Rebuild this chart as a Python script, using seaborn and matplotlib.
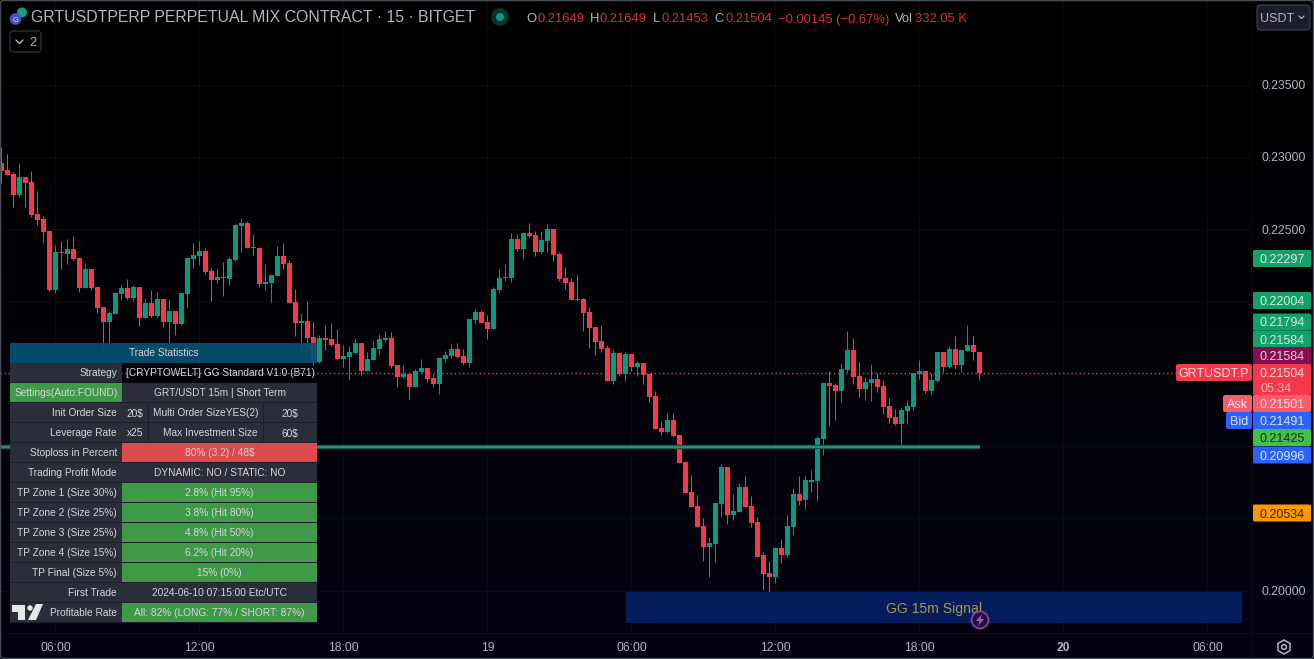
# Recreating a 15m GRTUSDT candle chart with the strategy stats table
import numpy as np
import pandas as pd
import matplotlib.pyplot as plt
from matplotlib.patches import Rectangle, FancyBboxPatch, Circle, Polygon, RegularPolygon
import seaborn as sns

# candle values, in units of 0.00001
opens = [22955, 22909, 22881, 22736, 22860, 22826, 22604, 22570, 22487, 22079, 22342, 22328, 22362, 22300, 22093, 22224,
         22100, 21961, 21857, 21913, 22051, 22093, 22024, 22100, 21885, 21989, 21899, 22017, 21857, 21934, 21844, 22051,
         22293, 22314, 22349, 22210, 22148, 22169, 22155, 22286, 22521, 22542, 22376, 22369, 22120, 22127, 22176, 22314,
         22266, 21996, 21851, 21864, 21754, 21581, 21747, 21740, 21705, 21602, 21616, 21643, 21712, 21519, 21595, 21671,
         21733, 21747, 21560, 21477, 21498, 21408, 21512, 21539, 21470, 21429, 21602, 21622, 21671, 21622, 21574, 21871,
         21927, 21858, 21809, 22079, 22162, 22162, 22432, 22362, 22473, 22459, 22342, 22418, 22501, 22328, 22162, 22134,
         22017, 22017, 21927, 21823, 21726, 21678, 21447, 21643, 21498, 21636, 21546, 21574, 21498, 21346, 21125, 21097,
         21180, 21074, 20889, 20682, 20585, 20447, 20299, 20320, 20597, 20855, 20521, 20541, 20716, 20585, 20475, 20246,
         20120, 20092, 20292, 20244, 20438, 20668, 20627, 20751, 20756, 21048, 21436, 21422, 21380, 21526, 21664, 21484,
         21394, 21436, 21463, 21415, 21277, 21201, 21150, 21242, 21270, 21498, 21519, 21380, 21450, 21650, 21546, 21671,
         21560, 21657, 21699, 21649]
highs = [23070, 23019, 22897, 22959, 22860, 22902, 22763, 22591, 22487, 22390, 22418, 22432, 22452, 22305, 22263, 22224,
         22100, 21961, 21934, 22065, 22113, 22155, 22113, 22100, 22024, 22079, 22065, 22017, 22017, 21934, 22058, 22300,
         22404, 22418, 22369, 22231, 22224, 22272, 22307, 22535, 22577, 22556, 22466, 22369, 22259, 22183, 22383, 22404,
         22286, 22086, 21920, 22003, 21858, 21768, 21837, 21851, 21809, 21699, 21692, 21747, 21712, 21650, 21726, 21775,
         21795, 21788, 21560, 21560, 21505, 21533, 21602, 21539, 21498, 21609, 21657, 21705, 21712, 21671, 21878, 21947,
         21941, 21906, 22100, 22224, 22259, 22473, 22466, 22473, 22542, 22487, 22487, 22535, 22501, 22342, 22238, 22162,
         22183, 22024, 21961, 21823, 21837, 21699, 21664, 21643, 21650, 21636, 21588, 21574, 21505, 21380, 21173, 21226,
         21226, 21074, 20896, 20800, 20661, 20502, 20371, 20606, 20876, 20855, 20668, 20744, 20793, 20654, 20509, 20267,
         20205, 20299, 20357, 20523, 20710, 20793, 20793, 20834, 21069, 21436, 21519, 21436, 21574, 21795, 21747, 21581,
         21477, 21567, 21505, 21456, 21332, 21256, 21270, 21318, 21505, 21595, 21519, 21505, 21650, 21650, 21692, 21761,
         21664, 21837, 21761, 21649]
lows = [22821, 22874, 22655, 22724, 22655, 22586, 22528, 22406, 22074, 22060, 22224, 22259, 22286, 22065, 22093, 22079,
        21920, 21675, 21687, 21913, 22010, 22017, 22003, 21830, 21885, 21892, 21885, 21823, 21710, 21768, 21837, 21954,
        22231, 22252, 22190, 22003, 22127, 22037, 22113, 22279, 22342, 22369, 22321, 22100, 22079, 21996, 22176, 22224,
        21989, 21761, 21618, 21687, 21560, 21572, 21664, 21692, 21595, 21546, 21456, 21641, 21491, 21519, 21593, 21629,
        21719, 21539, 21406, 21470, 21325, 21406, 21505, 21443, 21408, 21360, 21581, 21609, 21609, 21560, 21546, 21844,
        21851, 21740, 21809, 22058, 22141, 22134, 22349, 22293, 22445, 22314, 22328, 22342, 22279, 22141, 22086, 22010,
        22003, 21795, 21678, 21629, 21650, 21447, 21429, 21484, 21449, 21519, 21484, 21429, 21304, 21115, 21074, 21088,
        21065, 20880, 20673, 20576, 20438, 20207, 20096, 20200, 20507, 20458, 20486, 20541, 20576, 20438, 20235, 20004,
        19937, 20050, 20189, 20230, 20387, 20590, 20567, 20682, 20617, 20935, 21136, 21178, 21302, 21510, 21426, 21337,
        21316, 21309, 21371, 21219, 21157, 21143, 20977, 21150, 21247, 21463, 21364, 21350, 21443, 21510, 21539, 21533,
        21512, 21657, 21595, 21453]
closes = [22904, 22874, 22736, 22860, 22819, 22598, 22563, 22480, 22079, 22342, 22332, 22362, 22293, 22093, 22224, 22093,
          21954, 21857, 21920, 22058, 22093, 22024, 22100, 21885, 21989, 21899, 22017, 21857, 21934, 21844, 22058, 22300,
          22321, 22349, 22203, 22148, 22169, 22162, 22293, 22528, 22542, 22369, 22369, 22120, 22134, 22183, 22314, 22259,
          21989, 21851, 21864, 21747, 21581, 21747, 21733, 21699, 21602, 21622, 21650, 21712, 21519, 21602, 21678, 21740,
          21747, 21553, 21477, 21498, 21408, 21519, 21539, 21463, 21429, 21609, 21629, 21671, 21616, 21574, 21878, 21927,
          21851, 21809, 22086, 22162, 22169, 22432, 22362, 22473, 22452, 22342, 22425, 22501, 22321, 22155, 22127, 22010,
          22010, 21920, 21816, 21719, 21671, 21447, 21643, 21498, 21636, 21546, 21574, 21491, 21339, 21115, 21097, 21180,
          21067, 20880, 20673, 20576, 20438, 20299, 20327, 20606, 20855, 20521, 20548, 20716, 20576, 20465, 20235, 20113,
          20092, 20292, 20244, 20447, 20668, 20620, 20765, 20765, 21055, 21436, 21415, 21380, 21533, 21664, 21477, 21394,
          21443, 21463, 21408, 21270, 21194, 21150, 21249, 21277, 21505, 21519, 21380, 21456, 21650, 21546, 21671, 21560,
          21664, 21699, 21650, 21504]

# axis labels
price_ticks = [0.235, 0.23, 0.225, 0.22, 0.215, 0.21, 0.205, 0.2]
price_labels = ['0.23500', '0.23000', '0.22500', '', '', '', '', '0.20000']
time_ticks = [9, 33, 57, 81, 105, 129, 153, 177, 201]
time_labels = ['06:00', '12:00', '18:00', '19', '06:00', '12:00', '18:00', '20', '06:00']
last_price = 0.21504
level_price = 0.20996

# strategy table
stat_labels = ['Strategy', 'Settings(Auto:FOUND)', 'Init Order Size', 'Leverage Rate', 'Stoploss in Percent',
               'Trading Profit Mode', 'TP Zone 1 (Size 30%)', 'TP Zone 2 (Size 25%)', 'TP Zone 3 (Size 25%)',
               'TP Zone 4 (Size 15%)', 'TP Final (Size 5%)', 'First Trade', 'Profitable Rate']
stat_values = ['[CRYPTOWELT] GG Standard V1.0 (B71)', 'GRT/USDT 15m | Short Term', None, None, '80% (3.2) / 48$',
               'DYNAMIC: NO / STATIC: NO', '2.8% (Hit 95%)', '3.8% (Hit 80%)', '4.8% (Hit 50%)', '6.2% (Hit 20%)',
               '15% (0%)', '2024-06-10 07:15:00 Etc/UTC', 'All: 82% (LONG: 77% / SHORT: 87%)']
order_cells = [['20$', 'Multi Order SizeYES(2)', '20$'], ['x25', 'Max Investment Size', '60$']]

# price tags on the right
tag_values = ['0.22297', '0.22004', '0.21794', '0.21584', '0.21584', '0.21504', '0.21501', '0.21491', '0.21425',
              '0.20996', '0.20534']
tag_colors = ['#12a06b', '#12a06b', '#12a06b', '#12a06b', '#880e4f', '#f7374a', '#fa5c6c', '#2962ff', '#43c04a',
              '#2962ff', '#ff9800']
tag_text = ['#dfe9e4'] * 4 + ['#e8d5dd', '#f4dfe2', '#f6e4e6', '#dde6ff', '#0b2a10', '#dde6ff', '#3a2400']
tag_centers = [258.5, 300.5, 322, 339, 355.5, 372.5, 403.5, 420.5, 437.5, 455, 513]

ohlc_parts = [('O', 526, 'g'), ('0.21649', 537, 'r'), ('H', 590, 'g'), ('0.21649', 600, 'r'), ('L', 653, 'g'),
              ('0.21453', 661, 'r'), ('C', 714, 'g'), ('0.21504', 725, 'r'), ('−0.00145 (−0.67%)', 778, 'r'),
              ('Vol', 895, 'g'), ('332.05 K', 915, 'r')]

candles = pd.DataFrame({'open': opens, 'high': highs, 'low': lows, 'close': closes}) / 100000
candles['idx'] = candles.index
candles['bottom'] = candles[['open', 'close']].min(axis=1)
candles['body'] = (candles['open'] - candles['close']).abs()
up = candles[candles['close'] > candles['open']]
down = candles[candles['close'] <= candles['open']]

GREEN = '#089981'
RED = '#f7374a'
GREY = '#b2b5be'

sns.set_theme(style='dark', rc={'axes.facecolor': 'none', 'figure.facecolor': '#000000', 'axes.linewidth': 0,
                                'patch.edgecolor': 'none'})
plt.rcParams['font.family'] = ['Liberation Sans', 'DejaVu Sans']

W, H = 1314, 659
PANE_R, PANE_B = 1250, 632
fig = plt.figure(figsize=(W / 100, H / 100), dpi=100)

# background fades from black to dark navy
bg = fig.add_axes([0, 0, 1, 1], zorder=0)
bg.imshow(np.linspace(0, 1, 256).reshape(-1, 1), aspect='auto', extent=(0, W, H, 0),
          cmap=sns.blend_palette(['#000000', '#02030f'], as_cmap=True))
bg.axis('off')

ax = fig.add_axes([0, 1 - PANE_B / H, PANE_R / W, PANE_B / H], zorder=1)
ax.vlines(candles['idx'], candles['low'], candles['high'],
          colors=[GREEN if c > o else RED for o, c in zip(candles['open'], candles['close'])],
          linewidth=0.72, zorder=3)
sns.barplot(data=up, x='idx', y='body', bottom=up['bottom'].values, native_scale=True, color=GREEN, saturation=1,
            width=5 / 6, errorbar=None, linewidth=0, ax=ax, zorder=4)
sns.barplot(data=down, x='idx', y='body', bottom=down['bottom'].values, native_scale=True, color=RED, saturation=1,
            width=5 / 6, errorbar=None, linewidth=0, ax=ax, zorder=4)
ax.set_xlim(-1.5 / 6, (PANE_R - 1.5) / 6)
ax.set_ylim(0.235 - (PANE_B - 84.5) / 14460, 0.235 + 84.5 / 14460)
ax.set_xlabel('')
ax.set_ylabel('')
ax.set_xticks(time_ticks, time_labels)
ax.yaxis.tick_right()
ax.set_yticks(price_ticks, price_labels)
ax.tick_params(axis='x', length=0, pad=7.2, labelsize=8.7, colors=GREY)
ax.tick_params(axis='y', length=0, pad=8.5, labelsize=8.7, colors=GREY)
for lab in ax.get_xticklabels():
    if lab.get_text() == '20':
        lab.set_fontweight('bold')
ax.grid(True, color='#080a14', linewidth=0.72, zorder=0)
ax.set_axisbelow(True)
ax.axhline(last_price, xmax=1176 / PANE_R, color=RED, linewidth=1.0, linestyle=(0, (1, 2)), zorder=2)
ax.plot([-0.25, 163.1], [level_price, level_price], color='#0d4f45', linewidth=3.2, solid_capstyle='butt', zorder=5)
ax.plot([-0.25, 163.1], [level_price, level_price], color='#2f8a78', linewidth=1.7, solid_capstyle='butt', zorder=5)

# everything else sits on an overlay measured in image pixels
ov = fig.add_axes([0, 0, 1, 1], zorder=2)
ov.set_xlim(0, W)
ov.set_ylim(H, 0)
ov.axis('off')


def box(x0, y0, x1, y1, color, alpha=1.0, z=2):
    ov.add_patch(Rectangle((x0, y0), x1 - x0, y1 - y0, facecolor=color, edgecolor='none', alpha=alpha, zorder=z))


def rbox(x0, y0, x1, y1, face, edge='none', r=2, lw=0.8):
    ov.add_patch(FancyBboxPatch((x0 + r, y0 + r), x1 - x0 - 2 * r, y1 - y0 - 2 * r, boxstyle=f'round,pad={r},rounding_size={r}',
                                facecolor=face, edgecolor=edge, linewidth=lw, zorder=2))


def label(x, y, s, color='#d6d7da', size=7.25, ha='center', **kw):
    ov.text(x, y, s, color=color, fontsize=size, ha=ha, va='center_baseline', zorder=6, **kw)


CELL = '#2a2e39'
CELL_GREEN = '#3f9a47'
CELL_RED = '#dd4a4d'
GAP = '#1b1e28'
# table header and rows
box(10, 343, 317, 362.5, '#035070', alpha=0.93)
label(163.5, 352.5, 'Trade Statistics')
box(10, 363, 122, 623, GAP, z=1.5)
box(122, 383, 317, 623, GAP, z=1.5)
for i, (name, value) in enumerate(zip(stat_labels, stat_values)):
    top = 363 + 20 * i
    mid = top + 9.5
    first = CELL_GREEN if name.startswith('Settings') else CELL
    box(10, top, 121.5, top + 19, first)
    if name.startswith('Settings'):
        label(66, mid, name)
    else:
        label(117, mid, name, ha='right')
    if value is None:
        cells = order_cells[i - 2]
        box(122, top, 148, top + 19, CELL)
        box(149, top, 263, top + 19, CELL)
        box(264, top, 317, top + 19, CELL)
        label(135, mid, cells[0])
        label(258, mid, cells[1], ha='right')
        label(290, mid, cells[2])
        continue
    if value.startswith('[CRYPTOWELT]'):
        label(220, mid, value)
        continue
    if 'Hit' in value or value == '15% (0%)' or value.startswith('All'):
        color = CELL_GREEN
    elif value.startswith('80%'):
        color = CELL_RED
    else:
        color = CELL
    box(122, top, 317, top + 19, color)
    label(219.5, mid, value)

# tradingview mark on the last row
ov.add_patch(Polygon([(12, 605), (25, 605), (25, 620), (18, 620), (18, 612), (12, 612)], facecolor='#e6e6e6', zorder=6))
ov.add_patch(Circle((30, 608), 2.7, facecolor='#e6e6e6', zorder=6))
ov.add_patch(Polygon([(36, 604), (43, 604), (36, 620), (28, 620)], facecolor='#e6e6e6', zorder=6))

# signal box
box(626, 592, 1242, 623, '#051c5c')
label(934, 607, 'GG 15m Signal', color='#a39a48', size=10.1)
ov.add_patch(Circle((980, 620), 8.5, facecolor='#1a1440', edgecolor='#a13bb0', linewidth=1.2, zorder=6))
ov.add_patch(Polygon([(982, 614), (976, 621), (979.5, 621), (978, 626), (984, 619), (980.5, 619)],
                     facecolor='#b548c6', zorder=7))

# right side tags
for val, col, txt, cy in zip(tag_values, tag_colors, tag_text, tag_centers):
    bottom = cy + 8.5
    rbox(1253, cy - 8.5, 1311, bottom, col, r=1.5)
    label(1282, cy, val, color=txt, size=9)
rbox(1253, 364, 1311, 395, RED, r=1.5)
label(1276, 387, '05:34', color='#fbb0b8', size=9)
rbox(1176, 364, 1252, 381, RED, r=2)
label(1214, 372.5, 'GRTUSDT.P', color='#fbe4e6', size=9)
rbox(1223, 395, 1252, 412, '#fa5c6c', r=2)
label(1238, 403.5, 'Ask', color='#fbe4e6', size=9)
rbox(1226, 412, 1252, 429, '#2962ff', r=2)
label(1239, 420.5, 'Bid', color='#dde6ff', size=9)

# header
label(31, 16.5, 'GRTUSDTPERP PERPETUAL MIX CONTRACT · 15 · BITGET', color=GREY, size=11.47, ha='left')
ov.add_patch(Circle((22, 12.5), 5, facecolor='#0f9d8a', zorder=5))
ov.add_patch(Circle((15.5, 19), 5.8, facecolor='#4254c4', zorder=6))
label(15.5, 19, 'G', color='#d6d7da', size=5.5)
ov.add_patch(Circle((500, 17), 9, facecolor='#05332b', zorder=5))
ov.add_patch(Circle((500, 17), 4, facecolor='#089981', zorder=6))
for text, x, kind in ohlc_parts:
    label(x, 18, text, color=GREY if kind == 'g' else '#d9303e', size=9.4, ha='left')

# small buttons
rbox(1257, 5, 1310, 30, '#1a1e2a', edge='#434651', r=4)
label(1260, 17.5, 'USDT', color=GREY, size=9, ha='left')
ov.plot([1299, 1301.5, 1304], [16, 18.5, 16], color=GREY, linewidth=0.9, zorder=6)
rbox(10, 31, 41, 52, '#000000', edge='#363a45', r=3)
ov.plot([16, 19.5, 23], [40, 43.5, 40], color=GREY, linewidth=1.0, zorder=6)
label(32.5, 41.5, '2', color=GREY, size=9.4)

# settings icon
ov.add_patch(RegularPolygon((1284, 647), 6, radius=7, facecolor='none', edgecolor=GREY, linewidth=1.1, zorder=6))
ov.add_patch(Circle((1284, 647), 2.4, facecolor='none', edgecolor=GREY, linewidth=1.1, zorder=6))

# pane separators and outer frame
ov.plot([0, W], [632.5, 632.5], color='#0a0c16', linewidth=0.72, zorder=1)
ov.plot([1250.5, 1250.5], [0, H], color='#090b14', linewidth=0.72, zorder=1)
ov.add_patch(FancyBboxPatch((1.5, 1.5), W - 3, H - 3, boxstyle='round,pad=1,rounding_size=3', facecolor='none',
                            edgecolor='#4a4d58', linewidth=1.0, zorder=8))

fig.savefig('out.png', dpi=100)
